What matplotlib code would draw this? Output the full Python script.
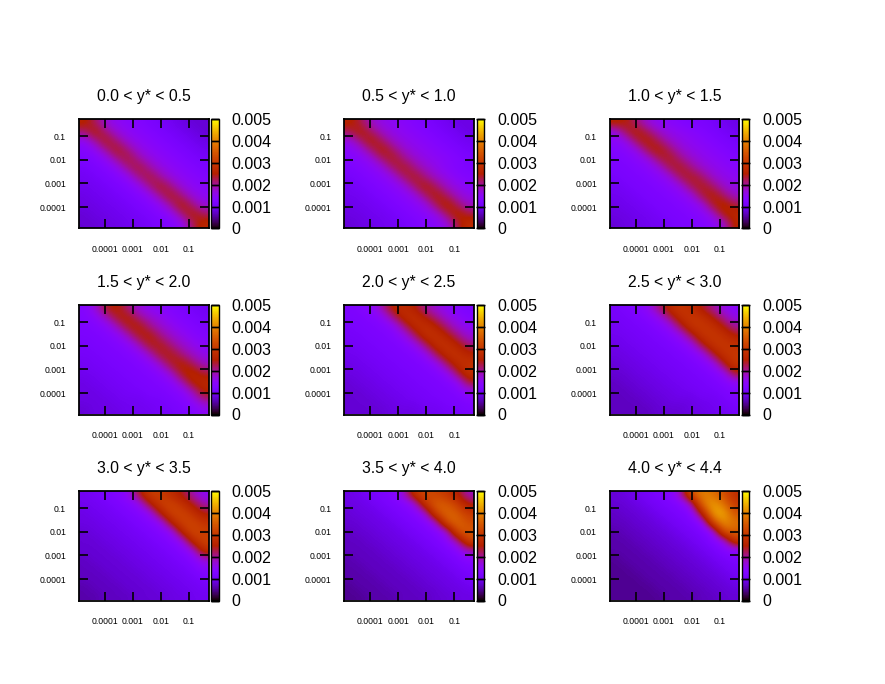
import matplotlib
matplotlib.use("Agg")
import numpy as np
import matplotlib.pyplot as plt

plt.rcParams["font.family"] = ["Liberation Sans", "DejaVu Sans"]

W, H = 885, 684

titles = ["0.0 < y* < 0.5", "0.5 < y* < 1.0", "1.0 < y* < 1.5",
          "1.5 < y* < 2.0", "2.0 < y* < 2.5", "2.5 < y* < 3.0",
          "3.0 < y* < 3.5", "3.5 < y* < 4.0", "4.0 < y* < 4.4"]

# log10 of the tick positions and their labels
tick_pos = [-4, -3, -2, -1]
tick_labels = ["0.0001", "0.001", "0.01", "0.1"]
cb_ticks = [0, 0.001, 0.002, 0.003, 0.004, 0.005]
cb_labels = ["0", "0.001", "0.002", "0.003", "0.004", "0.005"]

# values, in units of 1e-4, top row first
p1 = [[26, 22, 17, 15, 14, 13, 12, 11, 10, 9, 8, 8],
      [21, 26, 21, 17, 15, 14, 13, 12, 11, 10, 9, 8],
      [15, 20, 25, 21, 17, 15, 14, 13, 12, 11, 10, 9],
      [13, 15, 20, 25, 21, 17, 15, 14, 13, 12, 11, 10],
      [12, 13, 15, 20, 24, 20, 17, 15, 14, 13, 12, 11],
      [11, 12, 13, 15, 20, 24, 20, 17, 15, 14, 13, 12],
      [10, 11, 12, 13, 15, 20, 24, 20, 17, 15, 14, 13],
      [10, 10, 11, 12, 13, 15, 20, 25, 21, 17, 15, 14],
      [9, 10, 10, 11, 12, 13, 15, 20, 25, 21, 17, 15],
      [9, 9, 10, 10, 11, 12, 13, 15, 20, 26, 21, 17],
      [8, 9, 9, 10, 10, 11, 12, 13, 15, 21, 26, 22],
      [8, 8, 9, 9, 10, 10, 11, 12, 13, 15, 22, 27]]
p2 = [[26, 23, 18, 16, 15, 14, 13, 12, 11, 10, 9, 9],
      [22, 26, 22, 18, 16, 15, 14, 13, 12, 11, 10, 9],
      [16, 21, 26, 22, 18, 16, 15, 14, 13, 12, 11, 10],
      [14, 16, 21, 26, 22, 18, 16, 15, 14, 13, 12, 11],
      [13, 14, 16, 21, 25, 21, 18, 16, 15, 14, 13, 12],
      [12, 13, 14, 16, 21, 25, 21, 18, 16, 14, 13, 12],
      [11, 12, 13, 14, 16, 21, 25, 21, 18, 16, 14, 13],
      [10, 11, 12, 13, 14, 16, 21, 26, 22, 18, 16, 14],
      [10, 10, 11, 12, 13, 14, 16, 21, 26, 22, 18, 16],
      [9, 10, 10, 11, 12, 13, 14, 16, 22, 27, 22, 18],
      [9, 9, 10, 10, 11, 12, 13, 14, 16, 22, 27, 23],
      [8, 9, 9, 10, 10, 11, 12, 13, 14, 16, 23, 28]]
p3 = [[26, 25, 21, 17, 15, 14, 13, 12, 12, 11, 10, 9],
      [16, 23, 26, 22, 18, 16, 15, 14, 13, 12, 11, 10],
      [14, 16, 23, 26, 22, 18, 16, 15, 14, 13, 12, 11],
      [13, 14, 16, 23, 26, 22, 18, 16, 15, 14, 13, 12],
      [12, 13, 14, 16, 22, 25, 21, 18, 16, 15, 14, 13],
      [12, 12, 13, 14, 16, 22, 25, 21, 18, 16, 15, 14],
      [11, 12, 12, 13, 14, 16, 22, 25, 22, 18, 16, 15],
      [10, 11, 12, 12, 13, 14, 16, 22, 25, 22, 18, 16],
      [10, 10, 11, 12, 12, 13, 14, 16, 23, 26, 22, 18],
      [9, 10, 10, 11, 12, 12, 13, 14, 16, 24, 27, 23],
      [9, 9, 10, 10, 11, 12, 12, 13, 14, 17, 25, 27],
      [8, 9, 9, 10, 10, 11, 12, 12, 13, 14, 17, 26]]
p4 = [[13, 17, 24, 26, 21, 17, 15, 14, 13, 12, 11, 10],
      [13, 14, 18, 24, 26, 21, 18, 16, 14, 13, 12, 11],
      [12, 13, 14, 18, 24, 26, 21, 18, 16, 14, 13, 12],
      [12, 12, 13, 14, 18, 24, 26, 21, 18, 16, 14, 13],
      [11, 12, 12, 13, 14, 18, 24, 25, 21, 18, 16, 14],
      [11, 11, 12, 12, 13, 14, 18, 24, 25, 21, 18, 16],
      [10, 11, 11, 12, 12, 13, 14, 18, 24, 26, 22, 18],
      [10, 10, 11, 11, 12, 12, 13, 14, 18, 25, 27, 23],
      [9, 10, 10, 11, 11, 12, 12, 13, 14, 19, 26, 27],
      [9, 9, 10, 10, 11, 11, 12, 12, 13, 14, 19, 26],
      [9, 9, 9, 10, 10, 10, 11, 11, 12, 13, 15, 20],
      [8, 9, 9, 9, 10, 10, 10, 11, 11, 12, 13, 15]]
p5 = [[12, 13, 14, 19, 26, 28, 25, 20, 17, 15, 13, 12],
      [12, 12, 13, 14, 20, 27, 29, 25, 21, 17, 15, 13],
      [11, 12, 12, 13, 14, 20, 27, 29, 26, 21, 17, 15],
      [11, 11, 12, 12, 13, 15, 21, 28, 29, 26, 21, 17],
      [10, 11, 11, 12, 12, 13, 15, 21, 28, 29, 26, 21],
      [10, 10, 11, 11, 12, 12, 13, 15, 22, 28, 29, 26],
      [9, 10, 10, 11, 11, 12, 12, 13, 15, 22, 28, 29],
      [9, 9, 10, 10, 11, 11, 12, 12, 13, 15, 23, 29],
      [8, 9, 9, 10, 10, 11, 11, 12, 12, 13, 15, 24],
      [8, 8, 9, 9, 10, 10, 11, 11, 12, 12, 13, 16],
      [8, 8, 8, 9, 9, 10, 10, 11, 11, 12, 12, 13],
      [8, 8, 8, 8, 9, 9, 9, 10, 10, 11, 11, 12]]
p6 = [[11, 12, 13, 15, 21, 27, 30, 28, 24, 20, 16, 14],
      [11, 11, 12, 13, 15, 21, 28, 30, 29, 25, 20, 16],
      [10, 11, 11, 12, 13, 15, 22, 29, 30, 29, 25, 20],
      [10, 10, 11, 11, 12, 13, 15, 22, 29, 30, 29, 25],
      [9, 10, 10, 11, 11, 12, 13, 15, 23, 29, 30, 29],
      [9, 9, 10, 10, 11, 11, 12, 13, 15, 23, 29, 30],
      [8, 9, 9, 10, 10, 11, 11, 12, 13, 15, 24, 30],
      [8, 8, 9, 9, 10, 10, 11, 11, 12, 13, 15, 25],
      [7, 8, 8, 9, 9, 10, 10, 11, 11, 12, 13, 15],
      [7, 7, 8, 8, 9, 9, 10, 10, 11, 11, 12, 13],
      [7, 7, 7, 8, 8, 9, 9, 9, 10, 10, 11, 12],
      [7, 7, 7, 7, 8, 8, 8, 9, 9, 10, 10, 11]]
p7 = [[10, 11, 12, 13, 15, 23, 31, 31, 28, 24, 19, 15],
      [10, 10, 11, 12, 13, 15, 24, 31, 32, 29, 24, 19],
      [9, 10, 10, 11, 12, 13, 15, 25, 32, 32, 29, 24],
      [9, 9, 10, 10, 11, 12, 13, 15, 26, 32, 32, 29],
      [8, 9, 9, 10, 10, 11, 12, 13, 15, 27, 33, 31],
      [8, 8, 9, 9, 10, 10, 11, 12, 13, 16, 28, 32],
      [8, 8, 8, 9, 9, 10, 10, 11, 12, 13, 17, 29],
      [7, 8, 8, 8, 9, 9, 10, 10, 11, 12, 13, 18],
      [7, 7, 8, 8, 8, 9, 9, 10, 10, 11, 12, 14],
      [7, 7, 7, 8, 8, 8, 9, 9, 10, 10, 11, 12],
      [6, 7, 7, 7, 8, 8, 8, 9, 9, 10, 10, 11],
      [6, 6, 7, 7, 7, 8, 8, 8, 9, 9, 10, 10]]
p8 = [[9, 10, 11, 12, 13, 17, 29, 33, 32, 30, 25, 18],
      [9, 9, 10, 11, 12, 13, 16, 30, 36, 35, 31, 24],
      [8, 9, 9, 10, 11, 12, 13, 17, 33, 37, 35, 30],
      [8, 8, 9, 9, 10, 11, 12, 13, 18, 35, 37, 33],
      [7, 8, 8, 9, 9, 10, 11, 12, 13, 17, 35, 35],
      [7, 7, 8, 8, 9, 9, 10, 11, 12, 14, 20, 33],
      [7, 7, 7, 8, 8, 9, 9, 10, 11, 12, 14, 20],
      [6, 7, 7, 7, 8, 8, 9, 9, 10, 11, 12, 14],
      [6, 6, 7, 7, 7, 8, 8, 9, 9, 10, 11, 12],
      [6, 6, 6, 7, 7, 7, 8, 8, 9, 9, 10, 11],
      [5, 6, 6, 6, 7, 7, 7, 8, 8, 9, 9, 10],
      [5, 5, 6, 6, 6, 7, 7, 7, 8, 8, 9, 9]]
p9 = [[8, 9, 10, 11, 12, 13, 18, 34, 40, 38, 34, 28],
      [8, 8, 9, 10, 11, 12, 13, 18, 38, 43, 38, 30],
      [7, 8, 8, 9, 10, 11, 12, 13, 26, 43, 44, 34],
      [7, 7, 8, 8, 9, 10, 11, 12, 14, 34, 42, 38],
      [6, 7, 7, 8, 8, 9, 10, 11, 12, 15, 36, 36],
      [6, 6, 7, 7, 8, 8, 9, 10, 11, 13, 16, 31],
      [6, 6, 6, 7, 7, 8, 8, 9, 10, 11, 13, 15],
      [5, 6, 6, 6, 7, 7, 8, 8, 9, 10, 11, 12],
      [5, 5, 6, 6, 6, 7, 7, 8, 8, 9, 10, 11],
      [5, 5, 5, 6, 6, 6, 7, 7, 8, 8, 9, 10],
      [5, 5, 5, 5, 6, 6, 6, 7, 7, 8, 8, 9],
      [5, 5, 5, 5, 5, 6, 6, 6, 7, 7, 8, 8]]
panels = [p1, p2, p3, p4, p5, p6, p7, p8, p9]

lefts = [78.5, 344.0, 609.5]
tops = [119.0, 305.0, 491.0]
ax_w, ax_h = 130.0, 109.5
cb_gap, cb_w = 2.5, 7.5

fig = plt.figure(figsize=(W / 100, H / 100), dpi=100)


def px_axes(x, y, w, h):
    return fig.add_axes([x / W, 1 - (y + h) / H, w / W, h / H])


for n, (vals, title) in enumerate(zip(panels, titles)):
    x0 = lefts[n % 3]
    y0 = tops[n // 3]
    ax = px_axes(x0, y0, ax_w, ax_h)
    im = ax.imshow(np.array(vals) * 1e-4, cmap="gnuplot", vmin=0, vmax=0.005,
                   extent=[-4.93, -0.30, -4.90, -0.28], aspect="auto",
                   interpolation="bicubic", origin="upper")
    ax.set_xticks(tick_pos)
    ax.set_xticklabels(tick_labels)
    ax.set_yticks(tick_pos)
    ax.set_yticklabels(tick_labels)
    ax.tick_params(axis="x", direction="in", length=6.5, width=1.2, top=True,
                   labelsize=6.2, pad=12)
    ax.tick_params(axis="y", direction="in", length=6.5, width=1.2, right=True,
                   labelsize=6.2, pad=9)
    for s in ax.spines.values():
        s.set_linewidth(1.3)
    fig.text((x0 + ax_w / 2) / W, 1 - (y0 - 22.5) / H, title, fontsize=11.3,
             ha="center", va="center")

    cax = px_axes(x0 + ax_w + cb_gap, y0, cb_w, ax_h)
    cb = fig.colorbar(im, cax=cax, ticks=cb_ticks)
    cb.ax.set_yticklabels(cb_labels)
    cb.ax.tick_params(direction="in", length=5.5, width=1.0, left=True, right=True,
                      labelsize=11.5, pad=9.5)
    cb.outline.set_linewidth(1.0)

fig.savefig("out.png", dpi=100)
